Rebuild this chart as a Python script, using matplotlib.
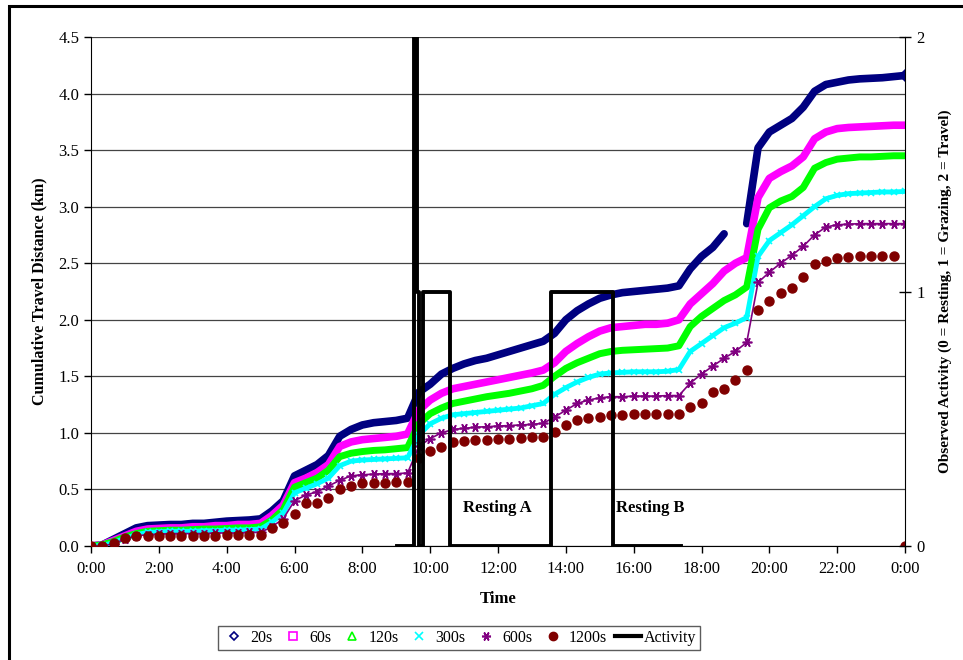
import matplotlib.pyplot as plt
import numpy as np
from matplotlib.lines import Line2D
from matplotlib.patches import Rectangle

plt.rcParams['font.family'] = ['Liberation Serif', 'DejaVu Serif']

# readings every 20 minutes (0:00 .. 24:00), cumulative distance in km
hours = np.linspace(0, 24, 73)

d20s = [0.0, 0.01, 0.06, 0.11, 0.16, 0.18, 0.185, 0.19, 0.19, 0.20, 0.20, 0.21,
        0.22, 0.225, 0.23, 0.24, 0.31, 0.40, 0.62, 0.67, 0.72, 0.80, 0.97, 1.03,
        1.07, 1.09, 1.10, 1.11, 1.13, 1.36, 1.43, 1.52, 1.57, 1.61, 1.64, 1.66,
        1.69, 1.72, 1.75, 1.78, 1.81, 1.88, 2.00, 2.08, 2.14, 2.19, 2.22, 2.24,
        2.25, 2.26, 2.27, 2.28, 2.30, 2.45, 2.56, 2.64, 2.76, np.nan, 2.85, 3.52,
        3.66, 3.72, 3.78, 3.88, 4.02, 4.08, 4.10, 4.12, 4.13, 4.135, 4.14, 4.15, 4.16]
d60s = [0.0, 0.01, 0.05, 0.09, 0.13, 0.15, 0.155, 0.16, 0.16, 0.17, 0.17, 0.18,
        0.18, 0.19, 0.19, 0.20, 0.27, 0.36, 0.56, 0.60, 0.65, 0.72, 0.88, 0.92,
        0.94, 0.95, 0.96, 0.97, 0.99, 1.20, 1.29, 1.35, 1.39, 1.41, 1.43, 1.45,
        1.47, 1.49, 1.51, 1.53, 1.555, 1.62, 1.72, 1.79, 1.85, 1.90, 1.93, 1.94,
        1.95, 1.96, 1.96, 1.97, 2.00, 2.14, 2.23, 2.32, 2.43, 2.50, 2.55, 3.08,
        3.25, 3.31, 3.36, 3.44, 3.60, 3.66, 3.69, 3.70, 3.705, 3.71, 3.715, 3.72, 3.72]
d120s = [0.0, 0.01, 0.04, 0.08, 0.11, 0.13, 0.135, 0.14, 0.14, 0.145, 0.15, 0.15,
         0.155, 0.16, 0.16, 0.17, 0.23, 0.32, 0.52, 0.56, 0.60, 0.67, 0.79, 0.82,
         0.835, 0.845, 0.85, 0.86, 0.87, 1.08, 1.17, 1.22, 1.26, 1.28, 1.30, 1.32,
         1.335, 1.35, 1.37, 1.39, 1.42, 1.50, 1.57, 1.62, 1.66, 1.70, 1.72, 1.73,
         1.735, 1.74, 1.745, 1.75, 1.77, 1.94, 2.03, 2.10, 2.17, 2.22, 2.29, 2.80,
         2.99, 3.05, 3.09, 3.17, 3.34, 3.39, 3.42, 3.43, 3.44, 3.44, 3.445, 3.45, 3.45]
d300s = [0.0, 0.005, 0.03, 0.07, 0.10, 0.12, 0.125, 0.13, 0.13, 0.13, 0.135, 0.135,
         0.14, 0.14, 0.145, 0.15, 0.21, 0.29, 0.47, 0.51, 0.55, 0.60, 0.71, 0.75,
         0.76, 0.765, 0.77, 0.775, 0.78, 0.98, 1.08, 1.13, 1.16, 1.17, 1.18, 1.19,
         1.20, 1.21, 1.22, 1.24, 1.26, 1.34, 1.40, 1.45, 1.49, 1.52, 1.53, 1.535,
         1.54, 1.54, 1.54, 1.545, 1.56, 1.72, 1.79, 1.86, 1.93, 1.97, 2.02, 2.56,
         2.70, 2.77, 2.84, 2.92, 3.00, 3.07, 3.10, 3.115, 3.12, 3.125, 3.13, 3.13, 3.135]
d600s = [0.0, 0.0, 0.02, 0.06, 0.09, 0.10, 0.105, 0.11, 0.11, 0.11, 0.11, 0.115,
         0.115, 0.115, 0.12, 0.12, 0.17, 0.24, 0.40, 0.45, 0.48, 0.53, 0.58, 0.62,
         0.63, 0.635, 0.64, 0.64, 0.645, 0.88, 0.95, 1.00, 1.03, 1.04, 1.05, 1.055,
         1.06, 1.065, 1.07, 1.075, 1.085, 1.14, 1.20, 1.26, 1.29, 1.31, 1.32, 1.32,
         1.325, 1.325, 1.325, 1.33, 1.33, 1.44, 1.52, 1.59, 1.66, 1.72, 1.80, 2.33,
         2.42, 2.50, 2.57, 2.65, 2.75, 2.82, 2.84, 2.845, 2.85, 2.85, 2.85, 2.85, 2.85]
d1200s = [0.0, 0.0, 0.03, 0.07, 0.09, 0.09, 0.09, 0.09, 0.09, 0.09, 0.09, 0.09,
          0.095, 0.095, 0.10, 0.10, 0.16, 0.20, 0.28, 0.38, 0.38, 0.42, 0.50, 0.53,
          0.56, 0.56, 0.56, 0.565, 0.57, 0.78, 0.84, 0.875, 0.92, 0.925, 0.935, 0.94,
          0.945, 0.95, 0.955, 0.96, 0.96, 1.01, 1.07, 1.11, 1.13, 1.14, 1.16, 1.16,
          1.17, 1.17, 1.17, 1.17, 1.17, 1.23, 1.26, 1.36, 1.385, 1.47, 1.56, 2.09,
          2.17, 2.24, 2.28, 2.375, 2.49, 2.52, 2.545, 2.555, 2.56, 2.565, 2.565, 2.565, 0.0]

# observed activity (0 = resting, 1 = grazing, 2 = travel), state from that clock time
act_clock = ['9:01', '9:32', '9:36', '9:40', '9:47', '10:35', '13:34', '15:23', '17:24']
act_state = [0, 2, 1, 0, 1, 0, 1, 0, 0]

tick_labels = ['0:00', '2:00', '4:00', '6:00', '8:00', '10:00', '12:00',
               '14:00', '16:00', '18:00', '20:00', '22:00', '0:00']


def to_hours(s):
    h, m = s.split(':')
    return int(h) + int(m) / 60.0


fig = plt.figure(figsize=(9.63, 6.6), dpi=100)
ax = fig.add_axes([91 / 963, 1 - 546 / 660, 814 / 963, 509 / 660])

# outer frame (only top and left edges fall inside the picture)
fig.patches.append(Rectangle((9 / 963, -0.05), 1.2, 1 - 6 / 660 + 0.05,
                             transform=fig.transFigure, fill=False,
                             edgecolor='black', linewidth=2.2))

# dense series drawn as thick bands
ax.plot(hours, d20s, color='#000080', lw=5.5, solid_capstyle='round',
        solid_joinstyle='round', zorder=2)
ax.plot(hours[-1:], d20s[-1:], 'D', color='#000080', ms=6, zorder=2)
ax.plot(hours, d60s, color='#FF00FF', lw=5.5, solid_capstyle='round',
        solid_joinstyle='round', zorder=3)
ax.plot(hours, d120s, color='#00FF00', lw=5, solid_capstyle='round',
        solid_joinstyle='round', zorder=4)
ax.plot(hours, d300s, color='#00FFFF', lw=3.5, marker='x', ms=5, mew=1.2,
        solid_joinstyle='round', zorder=5)
ax.plot(hours, d600s, color='#800080', lw=1.2, marker=(6, 2, 90), ms=7, mew=1.2,
        zorder=6)
ax.plot(hours, d1200s, linestyle='none', marker='o', color='#800000', ms=6.5,
        zorder=7)

ax.set_xlim(0, 24)
ax.set_ylim(0, 4.5)
ax.set_xticks(np.arange(0, 25, 2))
ax.set_xticklabels(tick_labels)
ax.set_yticks(np.arange(0, 4.51, 0.5))
ax.set_yticklabels(['%.1f' % v for v in np.arange(0, 4.51, 0.5)])
ax.yaxis.grid(True, color='#444444', linewidth=0.9)
ax.set_axisbelow(True)
ax.spines['top'].set_visible(False)
ax.spines['right'].set_visible(False)
ax.tick_params(axis='both', labelsize=12, direction='out', length=5, width=1)
ax.tick_params(axis='x', pad=6)
ax.set_xlabel('Time', fontsize=12, fontweight='bold', labelpad=10)
ax.set_ylabel('Cumulative Travel Distance (km)', fontsize=11.5,
              fontweight='bold', labelpad=8)

ax.text(11.98, 0.34, 'Resting A', fontsize=12, fontweight='bold',
        ha='center', va='center')
ax.text(16.5, 0.34, 'Resting B', fontsize=12, fontweight='bold',
        ha='center', va='center')

ax2 = ax.twinx()
act_hours = [to_hours(s) for s in act_clock]
ax2.step(act_hours, act_state, where='post', color='black', lw=2.8)
ax2.set_ylim(0, 2)
ax2.set_yticks([0, 1, 2])
ax2.tick_params(axis='y', labelsize=12, direction='inout', length=9, width=1)
for s in ['top', 'left', 'bottom']:
    ax2.spines[s].set_visible(False)
ax2.set_ylabel('Observed Activity (0 = Resting, 1 = Grazing, 2 = Travel)',
               fontsize=11, fontweight='bold', labelpad=10)

handles = [
    Line2D([], [], ls='none', marker='D', ms=4.5, mfc='none', mec='#000080', mew=1.2),
    Line2D([], [], ls='none', marker='s', ms=5.5, mfc='none', mec='#FF00FF', mew=1.2),
    Line2D([], [], ls='none', marker='^', ms=5.5, mfc='none', mec='#00FF00', mew=1.2),
    Line2D([], [], ls='none', marker='x', ms=5.5, color='#00FFFF', mew=1.2),
    Line2D([], [], ls='none', marker=(6, 2, 90), ms=6.5, color='#800080', mew=1.2),
    Line2D([], [], ls='none', marker='o', ms=6, color='#800000'),
    Line2D([], [], color='black', lw=3),
]
labels = ['20s', '60s', '120s', '300s', '600s', '1200s', 'Activity']
leg = fig.legend(handles, labels, loc='center', bbox_to_anchor=(459 / 963, 1 - 638 / 660),
                 ncol=7, fontsize=11.5, frameon=True, fancybox=False,
                 edgecolor='#333333', handlelength=1.6, handletextpad=0.2,
                 columnspacing=0.5, borderpad=0.25, borderaxespad=0)
leg.get_frame().set_linewidth(1.0)

fig.savefig('out.png', dpi=100)
